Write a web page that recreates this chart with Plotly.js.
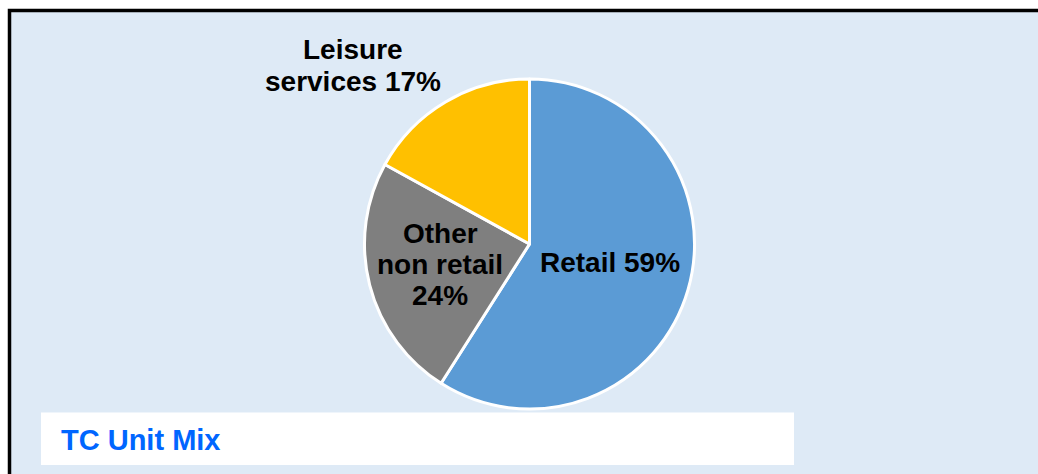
<!DOCTYPE html>
<html>
<head>
<meta charset="utf-8">
<script src="https://cdn.plot.ly/plotly-3.0.1.min.js"></script>
<style>
  html, body { margin: 0; padding: 0; background: #ffffff; }
  #chart { width: 1038px; height: 474px; }
</style>
</head>
<body>
<div id="chart"></div>
<script>
// ---- data ----
const categories = ['Retail', 'Other non retail', 'Leisure services'];
const shares = [59, 24, 17];
const sliceColors = ['#5B9BD5', '#7F7F7F', '#FFC000'];
const labelLines = [
  ['Retail 59%'],
  ['Other', 'non retail', '24%'],
  ['Leisure', 'services 17%']
];
const chartTitle = 'TC Unit Mix';

// ---- layout helpers (pixel -> paper) ----
const W = 1038, H = 474;
const px = x => x / W;
const py = y => 1 - y / H;

const cx = 529.5, cy = 244, r = 165;

// label anchor centres (first line centre, line spacing)
const labelPos = [
  { x: 610, y: 262.5, dy: 31.5 },
  { x: 440, y: 233.5, dy: 31 },
  { x: 353, y: 49.5, dy: 32 }
];

const fontFam = '"Liberation Sans", Arial, Helvetica, sans-serif';

const annotations = [];
labelLines.forEach((lines, i) => {
  lines.forEach((t, j) => {
    annotations.push({
      xref: 'paper', yref: 'paper',
      x: px(labelPos[i].x), y: py(labelPos[i].y + j * labelPos[i].dy),
      xanchor: 'center', yanchor: 'middle',
      text: '<b>' + t + '</b>',
      showarrow: false,
      font: { family: fontFam, size: 28, color: '#000000' }
    });
  });
});
annotations.push({
  xref: 'paper', yref: 'paper',
  x: px(59), y: py(440),
  xanchor: 'left', yanchor: 'middle',
  text: '<b>' + chartTitle + '</b>',
  showarrow: false,
  font: { family: fontFam, size: 29, color: '#0066FF' }
});

const trace = {
  type: 'pie',
  labels: categories,
  values: shares,
  sort: false,
  direction: 'clockwise',
  rotation: 0,
  textinfo: 'none',
  hoverinfo: 'none',
  marker: { colors: sliceColors, line: { color: '#ffffff', width: 3 } },
  domain: { x: [px(cx - r), px(cx + r)], y: [py(cy + r), py(cy - r)] },
  showlegend: false
};

const layout = {
  width: W, height: H,
  margin: { l: 0, r: 0, t: 0, b: 0 },
  paper_bgcolor: '#ffffff',
  showlegend: false,
  shapes: [
    {
      type: 'rect', xref: 'paper', yref: 'paper', layer: 'below',
      x0: px(9.5), x1: 1.05, y0: -0.05, y1: py(10.5),
      fillcolor: '#DEEAF6', line: { color: '#000000', width: 3.5 }
    },
    {
      type: 'rect', xref: 'paper', yref: 'paper', layer: 'below',
      x0: px(41), x1: px(794), y0: py(465), y1: py(412.5),
      fillcolor: '#ffffff', line: { width: 0 }
    }
  ],
  annotations: annotations
};

Plotly.newPlot('chart', [trace], layout, { staticPlot: true, displayModeBar: false });
</script>
</body>
</html>
